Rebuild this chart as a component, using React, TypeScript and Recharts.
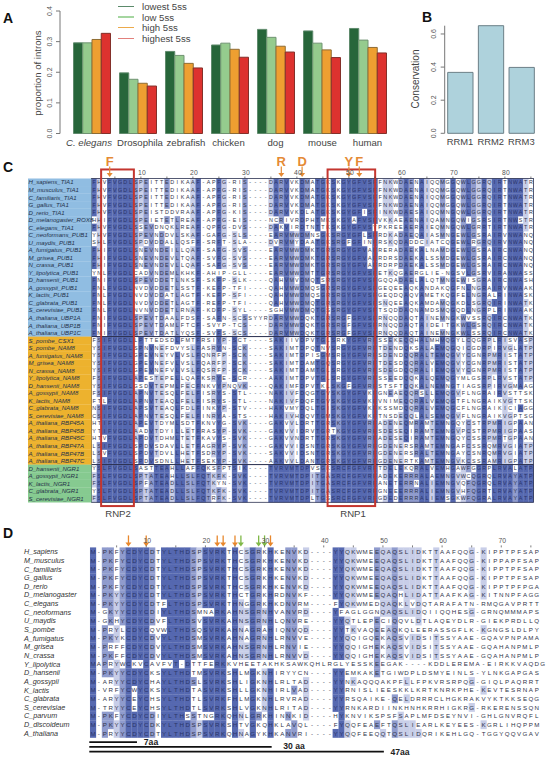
import React from "react";
import {
  BarChart,
  Bar,
  XAxis,
  YAxis,
  Legend,
  ScatterChart,
  Scatter,
  ReferenceLine,
  ReferenceDot,
} from "recharts";

const FONT = "'Liberation Sans', Arial, sans-serif";

// panel A
const species = ["C. elegans", "Drosophila", "zebrafish", "chicken", "dog", "mouse", "human"];
const lowest5ss = [0.296, 0.198, 0.268, 0.289, 0.34, 0.335, 0.343];
const low5ss = [0.296, 0.177, 0.255, 0.295, 0.314, 0.295, 0.305];
const high5ss = [0.307, 0.164, 0.229, 0.275, 0.285, 0.273, 0.281];
const highest5ss = [0.327, 0.155, 0.214, 0.249, 0.266, 0.248, 0.263];
const speciesLabelShift = [-2.5, 2.5, 2.5, -1, 0, 1, 0];
const intronTicks = [0, 0.1, 0.2, 0.3, 0.4];
const legendLines = ["#5b8a6b", "#a5d6a0", "#ecaa4b", "#e2807c"];

// panel B
const domains = ["RRM1", "RRM2", "RRM3"];
const conservation = [0.368, 0.65, 0.398];
const conservationTicks = [0, 0.1, 0.2, 0.3, 0.4, 0.5, 0.6];

// panel C
const tiaNames = [
  "H_sapiens_TIA1", "M_musculus_TIA1", "C_familiaris_TIA1", "G_gallus_TIA1", "D_rerio_TIA1",
  "D_melanogaster_ROX8", "C_elegans_TIA1", "C_neoformans_PUB1", "U_maydis_PUB1", "A_fumigatus_PUB1",
  "M_grisea_PUB1", "N_crassa_PUB1", "Y_lipolytica_PUB1", "D_hansenii_PUB1", "A_gossypii_PUB1",
  "K_lactis_PUB1", "C_glabrata_PUB1", "S_cerevisiae_PUB1", "A_thaliana_UBP1A", "A_thaliana_UBP1B",
  "A_thaliana_UBP1C",
];
const tiaSeqs = [
  "FHVFVGDLSPEITTEDIKAAF-APFG-RIS----DARVVKDMATGKSKGYGFVSFFNKWDAENAIQQMGGQWLGGRQIRTNWATR",
  "FHVFVGDLSPEITTEDIKAAF-APFG-RIS----DARVVKDMATGKSKGYGFVSFFNKWDAENAIQQMGGQWLGGRQIRTNWATR",
  "FHVFVGDLSPEITTEDIKAAF-APFG-RIS----DARVVKDMATGKSKGYGFVSFFNKWDAENAIQQMGGQWLGGRQIRTNWATR",
  "FHVFVGDLSPEITTEDIKAAF-APFG-RIS----DARVVKDMATGKSKGYGFVSFFNKWDAENAIQQMGGQWLGGRQIRTNWATR",
  "FHVFVGDLSPEISTDDVRAAF-APFG-KIS----DARVVKDLATGKSKGYGFISFINKWDAESAIQQMNGQWLGGRQIRTNWATR",
  "HHIFVGDLSPEIETETLREAF-APFG-EIS----NCRIVRDPHTMKSKGYAFVSFVKKAEAENAIQAMNGQWIGSRSIRTNWSTR",
  "FHVFVGDLSSEVDNQKLREAF-QPFG-DVS----DAKVIRDTNTTKSKGYGFVSYPKREEAERAIEQMNGQWLGRRTIRTNWATR",
  "YHVFVGDLSPEVNDDVLSKAF-GAFG-SLS----EARVMWDMNSGKSRGYGFLSFRDKADAEQAIASMNGEWLGSRAIRVNWANQ",
  "SHLFVGDLSPDVDDALLQSFF-SRFT-SLA----DVRVMYDAATGKSRGFGFINFRSKQDADDCIATCQGEWLRGRQIRVNWANQ",
  "FHIFVGDLSNEVNDEILLQAF-SAFG-SVS----EARVMWDMKTGRSRGYGFVAFRERADAEKALNAMDGEWLGSRAIRCNWANQ",
  "FHIFVGDLSNEVNDEVLTQAF-SVFG-SVS----EARVMWDMKTGRSRGYGFVAFRDRSDAEKALSSMDGEWLGSRAIRCNWANQ",
  "FHIFVGDLSNEVNDEVLLQAF-SAFG-SVS----EARVMWDMKTGRSRGYGFVAFRDRPDAEKALSSMDGEWLGSRAIRCNWANQ",
  "YNLFVGDLCADVNDEMLKHKF-AHIP-GLL----EARVMWDMTTGRSRGYGFVSFETKQGAERGLIE-NGSVLGSRVIRANWASS",
  "FNIFVGDLSPEVDDETLNKSF-SKFP-SLK----QAHVMVDMQTSRSRGYGFVSFGQQADAELALQTMNGEWISGRAIRCNWASH",
  "FNLFVGDLNVDVDDETLSSTF-KEFP-TFI----QAHVMWDMQSGRSRGYGFVSFGEQEEAQKANDAKQGFNLNGRAIRVNWAAK",
  "FNLFVGDLNVDVDDATLAGTF-KEFP-SFI----QAHVMWDMQSGRSRGYGFVSFGEQDQAQVAMETKQGFELNGRALRINWASK",
  "FNLFVGDLNVDVDDETLAGTF-REFP-TFI----QAHVMWDMQTGRSRGYGFVSFSNQEEAQKAMDAMQGKDLSGRQIRINWATK",
  "FNLFVGDLNVNVDDETLRNAF-KDFP-SYL----SGHVMWDMQTGSSRGYGFVSFTSQDDAQNAMDSMQGQDLNGRPLRINWAAK",
  "FNIFVGDLSPEVTDAALFDSF-SAFN-SCSSYYRDARVMWDQKTGRSRGFGFVSFRNQQDAQTAINEMNGKWVSSRQIRCNWATK",
  "FNIFVGDLSPEVTDAMLFTCF-SVYP-TCS----DARVMWDQKTGRSRGFGFVSFRNQQDAQTAIDEITGKWLGSRQIRCNWATK",
  "FNIFVGDLSPEVTDATLYQSF-SVFS-SCS----DARVMWDQKTGRSRGFGFVSFRNQQDAQTAINEMNGKWLSSRQIRCNWATK",
];
const namNames = [
  "S_pombe_CSX1", "S_pombe_NAM8", "A_fumigatus_NAM8", "M_grisea_NAM8", "N_crassa_NAM8", "Y_lipolytica_NAM8",
  "D_hansenii_NAM8", "A_gossypii_NAM8", "K_lactis_NAM8", "C_glabrata_NAM8", "S_cerevisiae_NAM8",
  "A_thaliana_RBP45A", "A_thaliana_RBP45B", "A_thaliana_RBP45C", "A_thaliana_RBP47A", "A_thaliana_RBP47B",
  "A_thaliana_RBP47C",
];
const namSeqs = [
  "FSIFVGDLLPTTEDSDLFMTFRSIYP-SCT----SAKIIVDPVTGLSRKYGFVRFSSEKEQQHALMHMQGYLCQGRPLRISVASP",
  "YSIFVGDLSPNVNEFDVYSLFASRYN-SCK----SAKIMTDPQTNVSRGYGFVRFTDENDQKSALAEMQGQICGDRPIRVGLATP",
  "YSIFVGDLGPEVNEYVLVSLFQNRFP-SCK----SAKIMTDPISGMSRGYGFVRFSDENDQQRALTEMQGVYCGNRPMRISTATP",
  "YSIFVGDLGPEVNEFVLVSLFQARFP-SCK----SAKIMTDAMTGQSRGYGFVRFTDESDQQRALVEMQGVYCGNRPMRISTATP",
  "YSIFVGDLGPEVNEFVLVSLFQSRFP-SCK----SAKIMTDAMTGLSRGYGFVRFSDEGDQQRALIEMQGVYCGNRPMRISTATP",
  "FSIFVGDLAPESTEPELLQAFKSRYE-SCR----AAKIMTDPVTGLSRGYGFVRFSSEEDQQKALQEMQGYMLGSRPLRVSTATP",
  "YSIFVGDLGSDVTEPMLFECFNKVYPNQVK----QAKIMFDPVTKLSKGFGFVRFSTSFTQQKALNEMNGTIAGSRPIRVGMAAG",
  "FSIFVGDLAPNVTESQLFELFISRYS-STL----NAKIVFDQGTGVSKGYGFVKFGNEAEQQRSLLEMQGVFLNGRAIRVSTTSK",
  "FTLFVGDLAPNVTEAQLFELFISRYS-STL----NAKIVFDQFTGVSKGYGFVKFVNIMEQQRALVEMQGTFLNGRAIKVGTTSK",
  "NSIFVGDLAPSVTEAQLFDLFINKYP-STV----HAKVMYDQLTGISKGYGFVKFKSSMDQQRALVEMQGCFLNGRAIKICIAGG",
  "CSIFVGDLAPNVTESQLFELFINRYA-STS----HAKIVHDQVTGMSKGYGFVKFTNSDEQQLALSEMQGVFLNGRAIKVGPTSG",
  "HTIFVGDLAPEVTDYMLSDTFKNVYG-SVK----GAKVVLDRTTGRSKGYGFVRFADENEQMRAMTEMNGQYCSTRPMRIGPAAN",
  "YTIFVGDLAADVTDYILLETFRASYP-SVK----GAKVVIDRVTGRTKGYGFVRFSDESEQIRAMTEMNGVPCSTRPMRIGPAAS",
  "HTVFVGDLAPDVTDHMLTETFKAVYS-SVK----GAKVVNDRTTGRSKGYGFVRFADESEQIRAMTEMNGQYCSSRPMRTGPAAN",
  "LSIFVGDLSPDVSDAVLLETFAGRYP-SVK----GAKVVIDSNTGRSKGYGFVRFGDENERSRAMTEMNGAFCSSRQMRVGIATP",
  "LSVFVGDLSPDVTDVLLHETFSDRYP-SVK----SAKVVIDSNTGRSKGYGFVRFGDENERSRALTEMNGAYCSNRQMRVGIATP",
  "LSIFVGDLSPDVSDNLLHETFSEKYP-SVK----AAKVVLDANTGRSKGYGFVRFGDENERTKAMTEMNGVKCSSRAMRIGPATP",
];
const ngrNames = ["D_hansenii_NGR1", "A_gossypii_NGR1", "K_lactis_NGR1", "C_glabrata_NGR1", "S_cerevisiae_NGR1"];
const ngrSeqs = [
  "YSLFVGDLSASTTEAHLLAFFQKSFPTSIK----TVRVMTDPVSGKSRCFGFVRFTDELEKQRALVEMHGAWFGGRPLRVALATP",
  "FSLFVGDLSPTATEAHLLSLFQTKFK-SVK----TVRVMTDPITGASRCFGFVRFADEKERRRALAEMNGVWCQGRQLRVAYATP",
  "FSLFVGDLSPFATEADLLSLFQTKYN-SVK----TVRVMTDPITGASRCFGFVRFANETERRNALIEMNGVQFQGRQLRVAYATP",
  "YSLFVGDLSPTATEADLLSLFQTKFK-SVK----TVRVMTDPITGASRCFGFVRFGNEEERRRALIEMNGVHFQGRTLRVAYATP",
  "FSLFVGDLSPTATEADLLSLFQTRFK-SVK----TVRVMTDPLTGSSRCFGFVRFGDEDERRRALIEMSGKWFQGRALRVAYATP",
];
const groupColors = ["#90bde2", "#edb22e", "#86ca90"];
const motifColsC = [
  { col: 4, letter: "F" },
  { col: 37, letter: "R" },
  { col: 41, letter: "D" },
  { col: 50, letter: "Y" },
  { col: 52, letter: "F" },
];
// frames drawn over the cells, given in column / row units
const groupFrames = [
  { from: 0.5, to: 85.5, rowFrom: 0.5, rowTo: 21.5, color: "#2b3150", line: 0.8 },
  { from: 0.5, to: 85.5, rowFrom: 21.5, rowTo: 38.5, color: "#2b3150", line: 0.8 },
  { from: 0.5, to: 85.5, rowFrom: 38.5, rowTo: 43.5, color: "#2b3150", line: 0.8 },
];
const rnpFrames = [
  { from: 2.35, to: 8.65, rowFrom: -0.7, rowTo: 44, color: "#c4362f", line: 2 },
  { from: 45.9, to: 55.05, rowFrom: -0.7, rowTo: 44, color: "#c4362f", line: 2 },
];
const tickColsC = [5, 10, 15, 20, 25, 30, 35, 40, 45, 50, 55, 60, 65, 70, 75, 80, 85];

// panel D
const u1cNames = [
  "H_sapiens", "M_musculus", "C_familiaris", "G_gallus", "D_rerio", "D_melanogaster", "C_elegans",
  "C_neoformans", "U_maydis", "S_pombe", "A_fumigatus", "M_grisea", "N_crassa", "Y_lipolytica", "D_hansenii",
  "A_gossypii", "K_lactis", "C_glabrata", "S_cerevisiae", "C_parvum", "D_discoideum", "A_thaliana",
];
const u1cSeqs = [
  "M-PKFYCDYCDTYLTHDSPSVRKTHCSGRKHKENVKD----YYQKWMEEQAQSLIDKTTAAFQQG-KIPPTPFSAP",
  "M-PKFYCDYCDTYLTHDSPSVRKTHCSGRKHKENVKD----YYQKWMEEQAQSLIDKTTAAFQQG-KIPPAPFSAP",
  "M-PKFYCDYCDTYLTHDSPSVRKTHCSGRKHKENVKD----YYQKWMEEQAQSLIDKTTAAFQQG-KIPPTPFSAP",
  "M-PKFYCDYCDTYLTHDSPSVRKTHCSGRKHKENVKD----YYQKWMEEQAQSLIDKTTAAFQQG-KIPPTPFSAP",
  "M-PKFYCDYCDTYLTHDSPSVRKTHCSGRKHKENVKD----YYQKWMEEQAQSLIDKTTAAFQQG-KIPPTPFPGA",
  "M-PKYYCDYCDTYLTHDSPSVRKTHCTGRKHRDNVKF----YYQKWMEEQAQHLIDATTAAFKAG-KITNNPFAGG",
  "M-PKYYCDYCDTFLTHDSPSVRKTHNGGRKHKDNVRM----FYQKWMEDQAQKLVDQTARAFATN-RMQGAVPRTT",
  "M-GKYYCDYCDIYLTHDSMNARKAHNSGRNHVANVRD----YFAGLGGNQAQSLIDQIIQQHESG-GRNQMMMAPS",
  "M-GKHYCDYCDVFLTHDSVSVRKAHNSGRNHLQNVRE----YYQTLEPECIQQVLDTLAQEYDLR-GIEKPRDLLQ",
  "M-PRYLCDYCQVWLTHDSQSVRKAHNAGRAHIQNVQD----YYTKVAQEEAQKQLEERASSGFLK-KGNGSLDLPY",
  "M-PKYKCDYCDVYLTHDSMSVRKAHNAGRNHLRNVVE----YYQQIGQEKAQSVIDSITSSYAAE-GQAVPNPAMA",
  "M-PRFFCDYCDVYLTHDSMSVRKAHNSGRNHLRNVIE----YYQQIGHEKAQSVIDSITSSYAAE-GQAHANPMLP",
  "M-PKFFCDYCDVYLTHDSMSVRKAHNSGRNHLRNVVD----YYQQIGHEKAQSVIDSITSSYAAE-GQAHANPMLP",
  "MAPRYWCKVCAVFVT-DTTFERKKVHEETAKHKSAWKQHLRGLYESSKEEGAK----KDDLEREMA-EIRKKVAQDG",
  "M-PKYYCDYCKSYLTHDTMSVRKSHLMGKNHIRYYCN----YYEMKAKETGIWDPLDSMYEINLS-YLNKGAPGAS",
  "M-ARYYCDYCHAYLTHDSLSVRKSHLIGKNHLRLTAD----YYNKAQQQAKPFLLFPKVRSRPQG-GIQLPAQRRT",
  "M-VRFYCWYCKSYLTHDTASVRKSHLLGKNHIRLVAD----YYRNISLIEESKKLKRTKNRKPHE-KEVTESRNAP",
  "M-ARYYCEYCHSYLTHDTLSVRKFHLMGKNHLRVRAD----YYRSQAIKE-QELDRRRCLHGKRAKVYKTKKSEQG",
  "M-TRYYCEYCHSYLTHDTLSVRKSHLVGKNHLRITAD----YYRNKARDIINKHNHKRRHIGKRG-RKERENSSQN",
  "M-PKFYCDYCDIYLTHSSTNGRKQHNLGRKHINNKID----HYKNVIKSPSFSAPLMFDSEYNVI-GHLGNVRQFL",
  "M-PKYYCDYCDKYLTHDSPSVRKSHTVGKQHKLAVQL----FYQQFEAEFTQSLIEARLKEYEES-KGRLIHQPPM",
  "M-PRYYCDYCDTYLTHDSPSVRKQHNAGYKHKANVRI----YYQQFEEQQTQSLIDQRIKEHLGQ-TGGYQQVGAV",
];
const arrowColsD = [
  { col: 7, color: "#e8872c" },
  { col: 10, color: "#e8872c" },
  { col: 22, color: "#e8872c" },
  { col: 23, color: "#e8872c" },
  { col: 25, color: "#e8872c" },
  { col: 26, color: "#7fb847" },
  { col: 29, color: "#7fb847" },
  { col: 30, color: "#7fb847" },
  { col: 31, color: "#e8872c" },
];
const spanBars = [
  { to: 8.44, row: 23.03 },
  { to: 31.2, row: 23.57 },
  { to: 50.16, row: 24.12 },
];
const tickColsD = [5, 10, 15, 20, 25, 30, 35, 40, 45, 50, 55, 60, 65, 70, 75];

const shadeColors = ["#5568b0", "#8f9bcd", "#c8cee8"];

// jalview style percent identity, worked out per sequence group
function shadeRows(seqs: string[]) {
  return seqs.map((seq) =>
    seq.split("").map((res, c) => {
      if (res === "-") return "none";
      const counts: Record<string, number> = {};
      seqs.forEach((s) => {
        if (s[c] !== "-") counts[s[c]] = (counts[s[c]] || 0) + 1;
      });
      const top = Math.max(...Object.values(counts));
      if (counts[res] !== top) return "none";
      const pct = (top / seqs.length) * 100;
      if (pct > 80) return shadeColors[0];
      if (pct > 60) return shadeColors[1];
      if (pct > 40) return shadeColors[2];
      return "none";
    })
  );
}

function buildCells(groups: string[][]) {
  const cells: { col: number; row: number; res: string; fill: string }[] = [];
  let row = 0;
  groups.forEach((seqs) => {
    const shades = shadeRows(seqs);
    seqs.forEach((seq, r) => {
      row += 1;
      seq.split("").forEach((res, c) => {
        cells.push({ col: c + 1, row, res, fill: shades[r][c] });
      });
    });
  });
  return cells;
}

const cellsC = buildCells([tiaSeqs, namSeqs, ngrSeqs]);
const cellsD = buildCells([u1cSeqs]);
const namesC = [...tiaNames, ...namNames, ...ngrNames];
const rowsC = namesC.map((_, i) => i + 1);
const rowsD = u1cNames.map((_, i) => i + 1);

const toFramePoints = (frames: any[]) =>
  frames.map((f) => ({ ...f, col: (f.from + f.to) / 2, row: (f.rowFrom + f.rowTo) / 2 }));

const intronTable = species.map((name, i) => ({
  name,
  lowest: lowest5ss[i],
  low: low5ss[i],
  high: high5ss[i],
  highest: highest5ss[i],
}));
const conservationTable = domains.map((name, i) => ({ name, value: conservation[i] }));

function Note({ x, y, size = 10, rotate = 0, bold = false, color = "#444", children }: any) {
  return (
    <div
      style={{
        position: "absolute",
        left: x,
        top: y,
        transform: `translate(-50%,-50%) rotate(${rotate}deg)`,
        fontFamily: FONT,
        fontSize: size,
        fontWeight: bold ? "bold" : "normal",
        color,
        whiteSpace: "nowrap",
        lineHeight: 1,
      }}
    >
      {children}
    </div>
  );
}

function RotatedTick({ x, y, payload }: any) {
  return (
    <text
      x={x - 2.5}
      y={y}
      transform={`rotate(-90 ${x - 2.5} ${y})`}
      textAnchor="middle"
      fontFamily={FONT}
      fontSize={7}
      fill="#555"
    >
      {payload.value.toFixed(1)}
    </text>
  );
}

function SpeciesTick({ x, y, payload, index }: any) {
  return (
    <text
      x={x + speciesLabelShift[index]}
      y={y + 12}
      textAnchor="middle"
      fontFamily={FONT}
      fontSize={9.6}
      fontStyle={payload.value === "C. elegans" ? "italic" : "normal"}
      fill="#444"
    >
      {payload.value}
    </text>
  );
}

function DomainTick({ x, y, payload }: any) {
  return (
    <text x={x} y={y + 12} textAnchor="middle" fontFamily={FONT} fontSize={9.4} fill="#444">
      {payload.value}
    </text>
  );
}

function IntronLegend({ payload }: any) {
  return (
    <div>
      {(payload || []).map((entry: any, i: number) => (
        <div key={entry.value} style={{ display: "flex", alignItems: "center", height: 10.7 }}>
          <span style={{ width: 16, height: 1.5, background: legendLines[i], marginRight: 8 }} />
          <span style={{ fontFamily: FONT, fontSize: 9.6, color: "#444" }}>{entry.value}</span>
        </div>
      ))}
    </div>
  );
}

function IntronChart() {
  return (
    <BarChart
      width={400}
      height={160}
      data={intronTable}
      margin={{ top: 11, right: 9.5, bottom: 0, left: 0 }}
      barGap={0}
      barSize={9.25}
    >
      <XAxis
        dataKey="name"
        height={26.5}
        interval={0}
        padding={{ left: 8.5, right: 0 }}
        axisLine={false}
        tickLine={false}
        tickMargin={0}
        tickSize={0}
        tick={<SpeciesTick />}
      />
      <YAxis
        width={60}
        domain={[0, 0.4]}
        ticks={intronTicks}
        stroke="#777"
        tickSize={4}
        tick={<RotatedTick />}
      />
      <Legend
        layout="vertical"
        align="center"
        verticalAlign="middle"
        itemSorter={null}
        content={<IntronLegend />}
        wrapperStyle={{ position: "absolute", left: 118, top: 1, width: 90, height: 44 }}
      />
      <Bar name="lowest 5ss" dataKey="lowest" fill="#27663a" stroke="#5f8a6c" isAnimationActive={false} />
      <Bar name="low 5ss" dataKey="low" fill="#95cb8e" stroke="#6f9372" isAnimationActive={false} />
      <Bar name="high 5ss" dataKey="high" fill="#ee9f31" stroke="#8f6c33" isAnimationActive={false} />
      <Bar name="highest 5ss" dataKey="highest" fill="#dd322f" stroke="#84302a" isAnimationActive={false} />
    </BarChart>
  );
}

function ConservationChart() {
  return (
    <BarChart
      width={146}
      height={160}
      data={conservationTable}
      margin={{ top: 25.7, right: 9.3, bottom: 0, left: 0 }}
      barSize={25.3}
    >
      <XAxis
        dataKey="name"
        height={26.7}
        interval={0}
        axisLine={false}
        tickLine={false}
        tickMargin={0}
        tickSize={0}
        tick={<DomainTick />}
      />
      <YAxis
        width={44.7}
        domain={[0, 0.65]}
        ticks={conservationTicks}
        stroke="#777"
        tickSize={4}
        tick={<RotatedTick />}
      />
      <Bar dataKey="value" fill="#aed2dc" stroke="#6b7f87" isAnimationActive={false} />
    </BarChart>
  );
}

function CellShape(width: number, height: number, fontSize: number) {
  return ({ cx, cy, payload }: any) => (
    <g>
      {payload.fill !== "none" && (
        <rect x={cx - width / 2} y={cy - height / 2} width={width + 0.2} height={height + 0.2} fill={payload.fill} />
      )}
      <text
        x={cx}
        y={cy + fontSize * 0.36}
        textAnchor="middle"
        fontFamily={FONT}
        fontSize={fontSize}
        fill={payload.fill === shadeColors[0] ? "#2c3568" : "#30344a"}
      >
        {payload.res}
      </text>
    </g>
  );
}

function FrameShape(colWidth: number, rowHeight: number) {
  return ({ cx, cy, payload }: any) => {
    const w = (payload.to - payload.from) * colWidth;
    const h = (payload.rowTo - payload.rowFrom) * rowHeight;
    return (
      <rect x={cx - w / 2} y={cy - h / 2} width={w} height={h} fill="none" stroke={payload.color} strokeWidth={payload.line} />
    );
  };
}

function RowLabelC({ x, y, payload }: any) {
  const row = payload.value;
  const fill = row <= tiaNames.length ? groupColors[0] : row <= tiaNames.length + namNames.length ? groupColors[1] : groupColors[2];
  return (
    <g>
      <rect x={x - 63.5} y={y - 3.77} width={63.5} height={7.73} fill={fill} />
      <text x={x - 63} y={y + 2.2} fontFamily={FONT} fontSize={6.1} fontStyle="italic" fill="#26324a">
        {namesC[row - 1]}
      </text>
    </g>
  );
}

function RowLabelD({ x, y, payload }: any) {
  return (
    <text x={x - 66} y={y + 2.5} fontFamily={FONT} fontSize={7.2} fontStyle="italic" fill="#333">
      {u1cNames[payload.value - 1]}
    </text>
  );
}

function ColTick({ x, y, payload }: any) {
  return (
    <g>
      <line x1={x} x2={x} y1={y - 2} y2={y} stroke="#444" strokeWidth={0.7} />
      {payload.value % 10 === 0 && (
        <text x={x + 1} y={y - 4} textAnchor="middle" fontFamily={FONT} fontSize={6.8} fill="#555">
          {payload.value}
        </text>
      )}
    </g>
  );
}

function MotifMark({ cx, cy, letter }: any) {
  return (
    <g>
      <text x={cx} y={cy - 12.5} textAnchor="middle" fontFamily={FONT} fontSize={13} fontWeight="bold" fill="#e58a35">
        {letter}
      </text>
      <line x1={cx} x2={cx} y1={cy - 12} y2={cy - 4} stroke="#e58a35" strokeWidth={1.2} />
      <path d={`M${cx - 3},${cy - 5.5} L${cx + 3},${cy - 5.5} L${cx},${cy - 1.5} Z`} fill="#e58a35" />
    </g>
  );
}

function ArrowMark({ cx, cy, color }: any) {
  return (
    <g>
      <line x1={cx} x2={cx} y1={cy - 12} y2={cy - 3} stroke={color} strokeWidth={1.3} />
      <path d={`M${cx - 3},${cy - 5} L${cx + 3},${cy - 5} L${cx},${cy - 1} Z`} fill={color} />
    </g>
  );
}

function AlignmentC() {
  return (
    <ScatterChart width={546} height={370} margin={{ top: 27.5, right: 12.5, bottom: 17.7, left: 28 }}>
      <XAxis
        type="number"
        dataKey="col"
        orientation="top"
        domain={[0.5, 85.5]}
        ticks={tickColsC}
        interval={0}
        height={1}
        axisLine={false}
        tickLine={false}
        tickSize={0}
        tickMargin={0}
        tick={<ColTick />}
      />
      <YAxis
        type="number"
        dataKey="row"
        reversed
        domain={[0.5, 43.5]}
        ticks={rowsC}
        interval={0}
        width={63.5}
        axisLine={false}
        tickLine={false}
        tickSize={0}
        tickMargin={0}
        tick={<RowLabelC />}
      />
      <Scatter data={cellsC} shape={CellShape(5.2, 7.53, 5.4)} isAnimationActive={false} />
      <Scatter data={toFramePoints(groupFrames)} shape={FrameShape(5.2, 7.53)} isAnimationActive={false} />
      <Scatter data={toFramePoints(rnpFrames)} shape={FrameShape(5.2, 7.53)} isAnimationActive={false} />
      {motifColsC.map((m) => (
        <ReferenceDot
          key={m.col}
          x={m.col}
          y={0.5}
          ifOverflow="visible"
          shape={(props: any) => <MotifMark {...props} letter={m.letter} />}
        />
      ))}
    </ScatterChart>
  );
}

function AlignmentD() {
  return (
    <ScatterChart width={546} height={237} margin={{ top: 26.4, right: 3.3, bottom: 19.4, left: 24 }}>
      <XAxis
        type="number"
        dataKey="col"
        orientation="top"
        domain={[0.5, 76.5]}
        ticks={tickColsD}
        interval={0}
        height={1}
        axisLine={false}
        tickLine={false}
        tickSize={0}
        tickMargin={0}
        tick={<ColTick />}
      />
      <YAxis
        type="number"
        dataKey="row"
        reversed
        domain={[0.5, 22.5]}
        ticks={rowsD}
        interval={0}
        width={66}
        axisLine={false}
        tickLine={false}
        tickSize={0}
        tickMargin={0}
        tick={<RowLabelD />}
      />
      <Scatter data={cellsD} shape={CellShape(5.96, 8.65, 6.2)} isAnimationActive={false} />
      {arrowColsD.map((a) => (
        <ReferenceDot
          key={a.col}
          x={a.col}
          y={0.5}
          ifOverflow="visible"
          shape={(props: any) => <ArrowMark {...props} color={a.color} />}
        />
      ))}
      {spanBars.map((b) => (
        <ReferenceLine
          key={b.to}
          segment={[
            { x: 0.38, y: b.row },
            { x: b.to, y: b.row },
          ]}
          ifOverflow="visible"
          stroke="#111"
          strokeWidth={1.8}
        />
      ))}
    </ScatterChart>
  );
}

function Panel({ left, top, children }: any) {
  return <div style={{ position: "absolute", left, top }}>{children}</div>;
}

export default function App() {
  return (
    <div style={{ position: "absolute", left: 0, top: 0, width: 546, height: 757, overflow: "hidden" }}>
      <Panel left={0} top={0}>
        <IntronChart />
      </Panel>
      <Panel left={400} top={0}>
        <ConservationChart />
      </Panel>
      <Panel left={0} top={150}>
        <AlignmentC />
      </Panel>
      <Panel left={0} top={520}>
        <AlignmentD />
      </Panel>

      <Note x={8} y={18} size={14} bold color="#111">A</Note>
      <Note x={427} y={17} size={14} bold color="#111">B</Note>
      <Note x={8} y={167} size={14} bold color="#111">C</Note>
      <Note x={8} y={533} size={14} bold color="#111">D</Note>
      <Note x={38} y={73} size={9.6} rotate={-90}>proportion of introns</Note>
      <Note x={416} y={79} size={10} rotate={-90}>Conservation</Note>
      <Note x={118} y={514} size={9.6}>RNP2</Note>
      <Note x={353} y={514} size={9.6}>RNP1</Note>
      <Note x={151} y={742} size={8.6} bold color="#222">7aa</Note>
      <Note x={294} y={746} size={8.6} bold color="#222">30 aa</Note>
      <Note x={400} y={752} size={8.6} bold color="#222">47aa</Note>
    </div>
  );
}
